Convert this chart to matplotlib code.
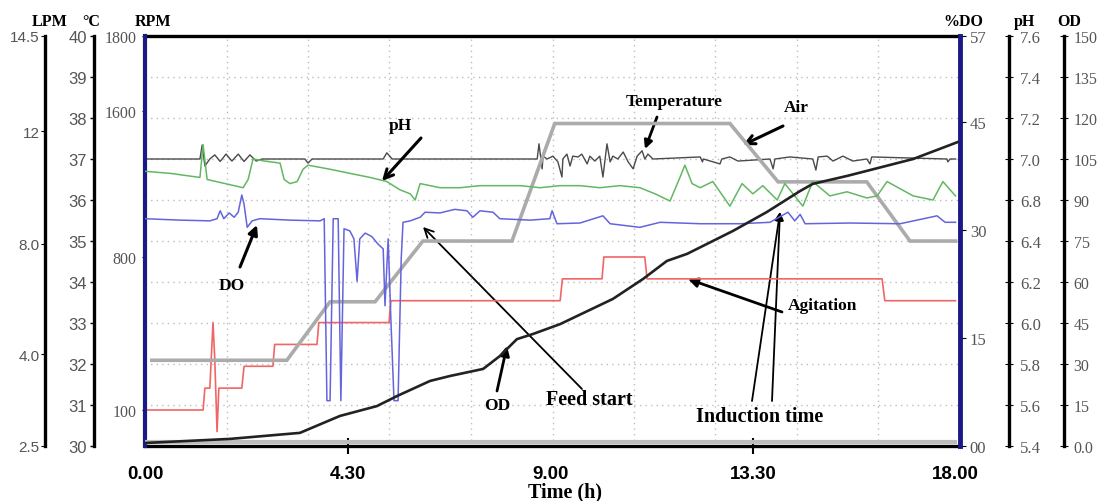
import numpy as np
import matplotlib
matplotlib.use("Agg")
import matplotlib.pyplot as plt
from matplotlib.ticker import FixedLocator, FixedFormatter

# ---------------- data ----------------
time_temp = [0.00, 1.22, 1.27, 1.33, 1.44, 1.55, 1.67, 1.80, 1.93, 2.07, 2.20, 2.33, 2.47, 2.60,
             3.55, 3.62, 3.71, 5.29, 5.37, 5.49, 8.71, 8.75, 8.82, 8.84, 8.93, 9.06, 9.17, 9.26,
             9.28, 9.37, 9.44, 9.50, 9.62, 9.70, 9.82, 9.88, 9.99, 10.10, 10.17, 10.26, 10.33,
             10.39, 10.50, 10.62, 10.73, 10.84, 10.93, 11.04, 11.10, 11.17, 11.28, 12.33, 12.38,
             12.40, 12.77, 12.81, 12.99, 13.17, 13.88, 13.95, 13.99, 14.32, 14.83, 14.90, 14.95,
             15.15, 15.28, 15.50, 15.72, 16.03, 16.10, 16.14, 17.81, 17.83, 17.88, 18.00]
temp_c = [37.0, 37.0, 37.34, 36.83, 37.0, 37.10, 36.94, 37.12, 36.95, 37.12, 36.94, 37.10, 36.95, 37.0,
          37.0, 36.90, 37.0, 37.0, 37.15, 37.0, 37.0, 37.37, 36.76, 37.07, 37.0, 37.07, 36.93, 36.56,
          37.0, 37.12, 36.83, 37.07, 37.05, 37.12, 36.88, 37.07, 36.95, 37.07, 36.56, 37.37, 36.93,
          37.07, 37.0, 37.17, 36.93, 36.76, 37.07, 37.20, 37.0, 37.12, 37.0, 37.05, 36.93,
          37.0, 36.88, 37.0, 37.05, 36.95, 37.0, 36.76, 37.0, 37.05, 37.0, 36.73, 37.05,
          37.07, 36.95, 37.07, 36.95, 37.0, 36.88, 37.05, 37.0, 36.93, 37.0, 37.0]

time_ph = [0.00, 0.56, 1.22, 1.29, 1.38, 1.78, 2.18, 2.29, 2.40, 2.66, 3.00, 3.09, 3.22, 3.38, 3.51,
           3.62, 4.11, 4.55, 5.00, 5.37, 5.66, 5.89, 6.00, 6.11, 6.55, 7.00, 7.44, 7.88, 8.33, 8.77,
           9.22, 9.66, 10.10, 10.55, 10.99, 11.33, 11.66, 11.88, 11.99, 12.15, 12.33, 12.61, 12.99,
           13.26, 13.50, 13.72, 14.04, 14.21, 14.61, 14.83, 15.21, 15.59, 16.03, 16.26, 16.48,
           17.06, 17.50, 17.72, 18.00]
ph_vals = [6.94, 6.93, 6.91, 7.07, 6.90, 6.88, 6.86, 6.90, 7.00, 6.99, 6.98, 6.90, 6.88, 6.89, 6.95,
           6.97, 6.95, 6.93, 6.91, 6.89, 6.85, 6.83, 6.80, 6.88, 6.86, 6.86, 6.87, 6.87, 6.87, 6.86,
           6.87, 6.87, 6.86, 6.87, 6.86, 6.83, 6.79, 6.91, 6.97, 6.88, 6.86, 6.89, 6.74,
           6.88, 6.83, 6.87, 6.80, 6.88, 6.74, 6.89, 6.82, 6.84, 6.81, 6.82, 6.89,
           6.82, 6.80, 6.89, 6.82]

time_do = [0.00, 0.78, 1.44, 1.60, 1.67, 1.75, 1.87, 1.98, 2.07, 2.15, 2.20, 2.27, 2.38, 2.55, 3.22,
           3.89, 3.98, 4.04, 4.11, 4.18, 4.29, 4.35, 4.42, 4.55, 4.64, 4.71, 4.77, 4.89, 5.04, 5.17,
           5.29, 5.33, 5.40, 5.46, 5.53, 5.62, 5.69, 5.73, 5.89, 6.11, 6.22, 6.55, 6.88, 7.15, 7.28,
           7.44, 7.73, 7.88, 8.55, 8.99, 9.04, 9.15, 9.66, 10.17, 10.33, 10.99, 11.44, 12.33, 13.21,
           13.88, 14.28, 14.43, 14.55, 14.66, 15.66, 16.77, 17.59, 17.77, 18.00]
do_pct = [31.6, 31.4, 31.3, 31.6, 32.7, 31.6, 32.4, 31.8, 32.5, 34.9, 33.6, 30.4, 31.3, 31.6, 31.4,
          31.3, 31.6, 6.3, 6.3, 31.6, 31.6, 6.3, 30.2, 29.9, 28.8, 22.9, 28.8, 29.6, 29.1, 28.1,
          27.4, 19.5, 28.8, 17.7, 6.3, 6.3, 26.0, 31.1, 31.3, 31.8, 32.5, 32.4, 32.9, 32.7, 31.8,
          32.7, 32.5, 31.6, 31.4, 31.6, 32.7, 30.9, 31.0, 32.0, 30.9, 30.4, 31.1, 30.9, 30.9,
          31.1, 32.5, 31.3, 32.2, 30.9, 31.0, 30.9, 32.0, 31.1, 31.1]

time_agit = [0.00, 1.29, 1.33, 1.44, 1.51, 1.55, 1.60, 1.64, 2.15, 2.20, 2.84, 2.88, 3.82, 3.86,
             5.42, 5.46, 9.22, 9.27, 10.15, 10.19, 11.10, 11.15, 16.37, 16.43, 18.00]
agit_rpm = [100, 100, 200, 200, 500, 330, 40, 200, 200, 300, 300, 400, 400, 500,
            500, 600, 600, 700, 700, 800, 800, 700, 700, 600, 600]

time_air = [0.15, 3.15, 4.11, 5.11, 6.17, 8.15, 9.10, 12.99, 14.06, 16.03, 16.99, 18.00]
air_lpm = [3.9, 3.9, 5.9, 5.9, 8.1, 8.1, 12.2, 12.2, 10.2, 10.2, 8.1, 8.1]

time_od = [0.00, 1.89, 3.44, 4.33, 5.15, 5.60, 6.33, 6.77, 7.51, 7.88, 8.26, 8.62, 9.22, 10.39,
           11.06, 11.59, 12.04, 13.06, 13.81, 14.55, 14.83, 15.59, 17.06, 18.05]
od_vals = [1.1, 2.6, 4.8, 11.0, 14.6, 18.3, 23.8, 25.6, 28.2, 32.9, 39.1, 41.0, 44.6, 53.8,
           61.1, 67.7, 70.3, 78.7, 85.6, 93.3, 95.9, 98.8, 105.0, 111.2]

time_base = [0.0, 18.0]
base_pct = [0.5, 0.5]

x_ticks = [0, 4.5, 9, 13.5, 18]
x_labels = ["0.00", "4.30", "9.00", "13.30", "18.00"]
temp_ticks = [30, 31, 32, 33, 34, 35, 36, 37, 38, 39, 40]
rpm_ticks = [100, 800, 1600, 1800]
lpm_ticks = [2.5, 4.0, 8.0, 12.0, 14.5]
lpm_labels = ["2.5", "4.0", "8.0", "12", "14.5"]
do_ticks = [0, 15, 30, 45, 57]
do_labels = ["00", "15", "30", "45", "57"]
ph_ticks = [5.4, 5.6, 5.8, 6.0, 6.2, 6.4, 6.8, 7.0, 7.2, 7.4, 7.6]
od_ticks = [0, 15, 30, 45, 60, 75, 90, 105, 120, 135, 150]
od_labels = ["0.0", "15", "30", "45", "60", "75", "90", "105", "120", "135", "150"]

# non-uniform axes of the instrument software (value -> fraction of axis height)
rpm_anchor = ([0, 100, 800, 1600, 1800], [0, 0.0878, 0.461, 0.817, 1.0])
lpm_anchor = ([2.5, 4.0, 8.0, 12.0, 14.5], [0, 0.224, 0.493, 0.768, 1.0])
ph_anchor = (ph_ticks, list(np.linspace(0, 1, 11)))

SERIF = ["Liberation Serif", "DejaVu Serif"]
SANS = ["Liberation Sans", "DejaVu Sans"]
W, H = 1097, 502
GRAY = "#555555"


def piecewise(xs, ys):
    xs = np.asarray(xs, float)
    ys = np.asarray(ys, float)

    def f(v):
        v = np.asarray(v, float)
        out = np.interp(v, xs, ys)
        lo_s = (ys[1] - ys[0]) / (xs[1] - xs[0])
        hi_s = (ys[-1] - ys[-2]) / (xs[-1] - xs[-2])
        out = np.where(v < xs[0], ys[0] + (v - xs[0]) * lo_s, out)
        out = np.where(v > xs[-1], ys[-1] + (v - xs[-1]) * hi_s, out)
        return out
    return f


def set_piecewise(axis_obj, anchor):
    axis_obj.set_yscale("function", functions=(piecewise(*anchor), piecewise(anchor[1], anchor[0])))


def style_labels(a, family, size):
    for lab in a.get_yticklabels():
        lab.set_fontfamily(family)
        lab.set_fontsize(size)
        lab.set_color(GRAY)


fig = plt.figure(figsize=(W / 100, H / 100), dpi=100)
L, R, T, B = 145, 960, 37, 447
ax = fig.add_axes([L / W, 1 - B / H, (R - L) / W, (B - T) / H])

# ---- host: temperature (°C) ----
ax.set_xlim(0, 18.1)
ax.set_ylim(30, 40)
ax.plot(time_temp, temp_c, color="#4a4a4a", lw=1.0, zorder=3)
ax.yaxis.set_major_locator(FixedLocator(temp_ticks))
ax.yaxis.set_major_formatter(FixedFormatter([str(t) for t in temp_ticks]))
ax.spines["left"].set_position(("axes", -0.0626))
ax.spines["left"].set_linewidth(2.4)
ax.spines["right"].set_visible(False)
for s in ("top", "bottom"):
    ax.spines[s].set_linewidth(2.4)
    ax.spines[s].set_color("black")
ax.tick_params(axis="y", direction="out", length=3, width=1, pad=2)
style_labels(ax, SANS, 12)
ax.xaxis.set_major_locator(FixedLocator(x_ticks))
ax.xaxis.set_major_formatter(FixedFormatter(x_labels))
ax.xaxis.set_minor_locator(FixedLocator(list(np.linspace(0, 18.1, 11)[1:-1])))
ax.tick_params(axis="x", which="major", direction="inout", length=11, width=1.5, pad=8)
ax.tick_params(axis="x", which="minor", length=0)
for i in (0, 2, 4):
    ax.xaxis.get_major_ticks()[i].tick1line.set_visible(False)
for lab in ax.get_xticklabels():
    lab.set_fontfamily(SANS)
    lab.set_fontweight("bold")
    lab.set_fontsize(13.5)
ax.grid(which="major", axis="y", color="#bdbdbd", lw=1, linestyle=(0, (1, 3)))
ax.grid(which="minor", axis="x", color="#bdbdbd", lw=1, linestyle=(0, (1, 3)))
ax.set_axisbelow(True)

# ---- RPM (agitation) on the frame's left edge ----
ax_rpm = ax.twinx()
ax_rpm.yaxis.tick_left()
set_piecewise(ax_rpm, rpm_anchor)
ax_rpm.set_ylim(0, 1800)
ax_rpm.plot(time_agit, agit_rpm, color="#f06666", lw=1.2)
ax_rpm.yaxis.set_major_locator(FixedLocator(rpm_ticks))
ax_rpm.yaxis.set_major_formatter(FixedFormatter([str(t) for t in rpm_ticks]))
ax_rpm.yaxis.set_minor_locator(FixedLocator([]))
for s in ("right", "top", "bottom"):
    ax_rpm.spines[s].set_visible(False)
ax_rpm.spines["left"].set_color("#1a1a86")
ax_rpm.spines["left"].set_linewidth(3)
ax_rpm.tick_params(axis="y", direction="out", length=2, pad=4)
style_labels(ax_rpm, SERIF, 11.5)

# ---- LPM (air) ----
ax_lpm = ax.twinx()
ax_lpm.yaxis.tick_left()
set_piecewise(ax_lpm, lpm_anchor)
ax_lpm.set_ylim(2.5, 14.5)
ax_lpm.plot(time_air, air_lpm, color="#ababab", lw=2.6, solid_joinstyle="miter")
ax_lpm.yaxis.set_major_locator(FixedLocator(lpm_ticks))
ax_lpm.yaxis.set_major_formatter(FixedFormatter(lpm_labels))
ax_lpm.yaxis.set_minor_locator(FixedLocator([]))
for s in ("right", "top", "bottom"):
    ax_lpm.spines[s].set_visible(False)
ax_lpm.spines["left"].set_position(("axes", -0.1227))
ax_lpm.spines["left"].set_linewidth(2.4)
ax_lpm.tick_params(axis="y", direction="out", length=3, pad=1)
style_labels(ax_lpm, SANS, 11)

# ---- %DO ----
ax_do = ax.twinx()
ax_do.set_ylim(0, 57)
ax_do.plot(time_base, base_pct, color="#bdbdbd", lw=3)
ax_do.plot(time_do, do_pct, color="#6464dc", lw=1.1)
ax_do.yaxis.set_major_locator(FixedLocator(do_ticks))
ax_do.yaxis.set_major_formatter(FixedFormatter(do_labels))
for s in ("left", "top", "bottom"):
    ax_do.spines[s].set_visible(False)
ax_do.spines["right"].set_color("#1a1a86")
ax_do.spines["right"].set_linewidth(3.5)
ax_do.tick_params(axis="y", direction="out", length=4, pad=3)
style_labels(ax_do, SERIF, 12)

# ---- pH ----
ax_ph = ax.twinx()
set_piecewise(ax_ph, ph_anchor)
ax_ph.set_ylim(5.4, 7.6)
ax_ph.plot(time_ph, ph_vals, color="#62b862", lw=1.1)
ax_ph.yaxis.set_major_locator(FixedLocator(ph_ticks))
ax_ph.yaxis.set_major_formatter(FixedFormatter(["%.1f" % t for t in ph_ticks]))
ax_ph.yaxis.set_minor_locator(FixedLocator([]))
for s in ("left", "top", "bottom"):
    ax_ph.spines[s].set_visible(False)
ax_ph.spines["right"].set_position(("axes", 1.060))
ax_ph.spines["right"].set_linewidth(2.4)
ax_ph.tick_params(axis="y", direction="inout", length=6, pad=5)
style_labels(ax_ph, SERIF, 12)

# ---- OD ----
ax_od = ax.twinx()
ax_od.set_ylim(0, 150)
ax_od.plot(time_od, od_vals, color="#222222", lw=1.9)
ax_od.yaxis.set_major_locator(FixedLocator(od_ticks))
ax_od.yaxis.set_major_formatter(FixedFormatter(od_labels))
for s in ("left", "top", "bottom"):
    ax_od.spines[s].set_visible(False)
ax_od.spines["right"].set_position(("axes", 1.1276))
ax_od.spines["right"].set_linewidth(2.4)
ax_od.tick_params(axis="y", direction="inout", length=6, pad=4)
style_labels(ax_od, SERIF, 11.5)


# ---------------- text & annotations (figure pixel layout) ----------------
def fp(x, y):
    return (x / W, 1 - y / H)


def label(x, y, s, size=12.5, **kw):
    fig.text(*fp(x, y), s, ha="center", va="center", fontsize=size, fontweight="bold",
             family=SERIF, color="black", **kw)


def arrow(tail, tip, style="-|>", lw=2.0, ms=14):
    ax.annotate("", xy=fp(*tip), xytext=fp(*tail), xycoords="figure fraction",
                textcoords="figure fraction",
                arrowprops=dict(arrowstyle=style, lw=lw, color="black", mutation_scale=ms,
                                shrinkA=0, shrinkB=0), annotation_clip=False)


for (x, s) in [(50, "LPM"), (91, "°C"), (153, "RPM"), (963, "%DO"), (1024, "pH"), (1069, "OD")]:
    label(x, 22, s, size=11.5)

label(565, 492, "Time (h)", size=14.5)

label(400, 126, "pH")
arrow((421, 139), (382, 182), style="->", lw=2.2, ms=16)
label(232, 286, "DO")
arrow((240, 268), (257, 226), lw=2.2)
label(674, 102, "Temperature")
arrow((657, 118), (645, 150), lw=2.0, ms=12)
label(796, 108, "Air")
arrow((783, 127), (743, 146), style="->", lw=2.2, ms=16)
label(823, 306, "Agitation")
arrow((782, 313), (688, 280), lw=2.0)
label(497, 406, "OD")
arrow((497, 392), (507, 347), lw=2.0)
label(589, 400, "Feed start", size=14.5)
arrow((582, 390), (423, 228), style="->", lw=1.3, ms=16)
label(760, 417, "Induction time", size=14.5)
arrow((752, 402), (780, 213), lw=1.3, ms=12)
arrow((772, 402), (780, 213), lw=1.3, ms=12)

fig.savefig("out.png", dpi=100)
